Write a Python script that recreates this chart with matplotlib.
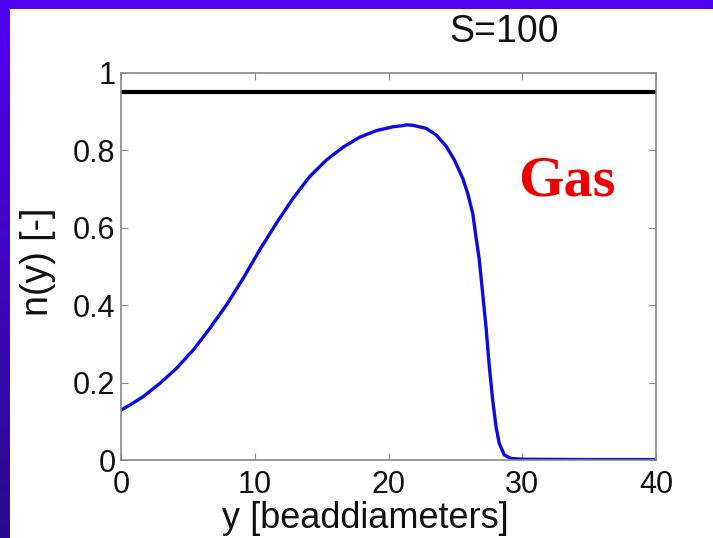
import numpy as np
import matplotlib
matplotlib.use("Agg")
import matplotlib.pyplot as plt
from matplotlib.patches import Rectangle
from matplotlib.colors import LinearSegmentedColormap

# Data
y_pos = [0, 0.67, 1.67, 2.91, 4.15, 5.40, 6.64, 7.89, 9.13, 10.37, 11.62, 12.86,
         14.1, 15.35, 16.59, 17.84, 19.08, 20.33, 21.07, 21.32, 21.8, 22.81, 23.56,
         24.31, 24.93, 25.55, 25.92, 26.3, 26.54, 26.79, 27.04, 27.29, 27.54, 27.79,
         28.04, 28.28, 28.66, 29.15, 30, 35, 40]
n_vals = [0.129, 0.142, 0.164, 0.198, 0.237, 0.284, 0.340, 0.401, 0.469, 0.543, 0.612, 0.676,
          0.732, 0.775, 0.808, 0.834, 0.851, 0.861, 0.864, 0.866, 0.865, 0.857, 0.840,
          0.811, 0.775, 0.728, 0.689, 0.637, 0.577, 0.517, 0.431, 0.344, 0.241, 0.155,
          0.086, 0.043, 0.013, 0.004, 0.002, 0.001, 0.001]
gas_level = 0.952
title_text = "S=100"
xticks = [0, 10, 20, 30, 40]
yticks = [0, 0.2, 0.4, 0.6, 0.8, 1]
ytick_labels = ["0", "0.2", "0.4", "0.6", "0.8", "1"]

W, H = 713, 538
fig = plt.figure(figsize=(W / 100, H / 100), dpi=100)
fig.patch.set_facecolor("white")

# Purple border (top band and left gradient band)
fig.patches.append(Rectangle((0, 1 - 9 / H), 1, 9 / H, transform=fig.transFigure,
                             facecolor="#5200f0", edgecolor="none", zorder=-5))
bax = fig.add_axes([0, 0, 10 / W, 1 - 9 / H])
grad = np.linspace(0, 1, 256).reshape(-1, 1)
cm = LinearSegmentedColormap.from_list("b", ["#2a0c8c", "#5200f0"])
bax.imshow(grad, aspect="auto", cmap=cm, origin="lower", extent=[0, 1, 0, 1])
bax.set_axis_off()

ax = fig.add_axes([121 / W, 1 - 460 / H, (656 - 121) / W, (460 - 73) / H])
ax.plot(y_pos, n_vals, color="#0a0ae6", lw=2.4, solid_joinstyle="round")
ax.axhline(gas_level, color="black", lw=3)
ax.set_xlim(0, 40)
ax.set_ylim(0, 1)
ax.set_xticks(xticks)
ax.set_yticks(yticks)
ax.set_yticklabels(ytick_labels)
for s in ax.spines.values():
    s.set_color("#888888")
    s.set_linewidth(1.2)
ax.tick_params(direction="in", length=5, color="#888888", labelsize=22,
               labelcolor="#111111", top=True, right=True)
ax.tick_params(axis="x", pad=7)
ax.tick_params(axis="y", pad=4)
for lab in ax.get_xticklabels() + ax.get_yticklabels():
    lab.set_fontfamily("Liberation Sans")

fig.text(365 / W, 1 - 518 / H, "y [beaddiameters]", fontsize=26, family="Liberation Sans",
         color="#111111", ha="center", va="center")
fig.text(38 / W, 1 - 262 / H, "n(y) [-]", fontsize=27, family="Liberation Sans",
         color="#111111", ha="center", va="center", rotation=90)

fig.text(504 / W, 1 - 32 / H, title_text, fontsize=27, family="Liberation Sans",
         color="#111111", ha="center", va="center")
fig.text(567 / W, 1 - 182 / H, "Gas", fontsize=42, family="Liberation Serif",
         weight="bold", color="#ee0000", ha="center", va="center")

fig.savefig("out.png", dpi=100, facecolor="white")
